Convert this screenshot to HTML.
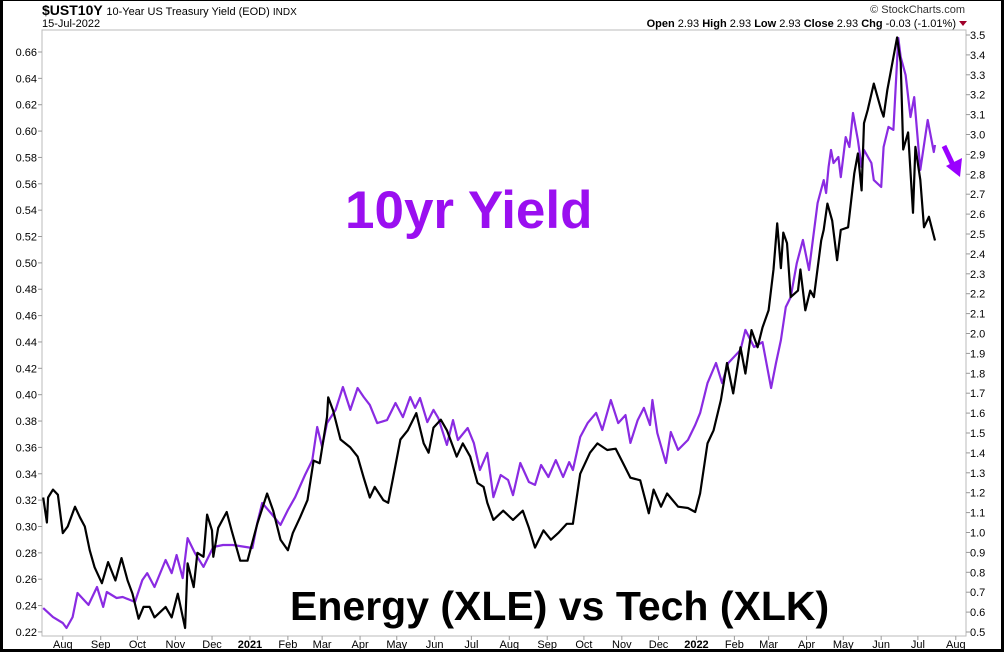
<!DOCTYPE html>
<html><head><meta charset="utf-8">
<style>
html,body{margin:0;padding:0;background:#fff;}
body{width:1004px;height:654px;overflow:hidden;position:relative;font-family:"Liberation Sans",Arial,sans-serif;}
#frame{position:absolute;left:0;top:0;width:998px;height:648px;border-left:3px solid #000;border-right:3px solid #000;border-bottom:3px solid #000;border-top:1px solid #000;}
</style></head>
<body>
<div id="frame"></div>
<svg id="chart" width="1004" height="654" style="position:absolute;left:0;top:0">
<text x="42" y="15" font-size="14" font-weight="bold" fill="#000">$UST10Y <tspan font-size="11" font-weight="normal">10-Year US Treasury Yield (EOD) </tspan><tspan font-size="10" font-weight="normal">INDX</tspan></text>
<text x="42" y="27" font-size="11" fill="#000">15-Jul-2022</text>
<text x="965" y="13" font-size="11" text-anchor="end" fill="#333">© StockCharts.com</text>
<text x="956" y="27" font-size="11" text-anchor="end" fill="#000"><tspan font-weight="bold">Open</tspan> 2.93 <tspan font-weight="bold">High</tspan> 2.93 <tspan font-weight="bold">Low</tspan> 2.93 <tspan font-weight="bold">Close</tspan> 2.93 <tspan font-weight="bold">Chg</tspan> -0.03 (-1.01%)</text>
<polygon points="959,21 967,21 963,26" fill="#a0002a"/>
<rect x="42" y="30" width="924" height="606" fill="none" stroke="#bbb" stroke-width="1"/>
<g id="axes"></g>
<g id="series"></g>
<text x="345" y="228" font-size="53" font-weight="bold" fill="#9a0ff0">10yr Yield</text>
<text x="290" y="620" font-size="41" font-weight="bold" fill="#000">Energy (XLE) vs Tech (XLK)</text>
<g>
<line x1="944" y1="146" x2="953" y2="165" stroke="#9a00ff" stroke-width="5"/>
<polygon points="946,166 962,158 960,177" fill="#9a00ff"/>
</g>
</svg>
<script>
const monthLabels=["Aug","Sep","Oct","Nov","Dec","2021","Feb","Mar","Apr","May","Jun","Jul","Aug","Sep","Oct","Nov","Dec","2022","Feb","Mar","Apr","May","Jun","Jul","Aug"];
const monthDays=[17,48,78,109,139,170,201,229,260,290,321,351,382,413,443,474,504,535,566,594,625,655,686,716,747];
const leftTicks=[0.22,0.24,0.26,0.28,0.30,0.32,0.34,0.36,0.38,0.40,0.42,0.44,0.46,0.48,0.50,0.52,0.54,0.56,0.58,0.60,0.62,0.64,0.66];
const rightTicks=[0.5,0.6,0.7,0.8,0.9,1.0,1.1,1.2,1.3,1.4,1.5,1.6,1.7,1.8,1.9,2.0,2.1,2.2,2.3,2.4,2.5,2.6,2.7,2.8,2.9,3.0,3.1,3.2,3.3,3.4,3.5];
const ratioDays=[1,4,5,9,13,17,21,27,31,35,39,43,49,54,60,65,70,74,79,83,88,92,101,106,111,117,119,124,127,132,135,139,140,144,151,155,162,168,176,184,189,195,201,205,211,217,222,227,233,234,238,244,252,258,263,268,272,279,283,287,293,299,306,312,316,320,326,331,339,344,350,356,361,364,369,377,385,393,398,403,410,416,422,429,434,440,448,454,462,469,475,481,489,496,500,506,511,520,528,534,538,544,549,555,560,565,571,575,580,585,589,594,598,601,604,606,609,612,618,620,624,628,631,637,639,642,646,650,653,659,664,667,670,672,675,680,686,688,691,696,699,702,704,708,712,714,718,721,725,730];
const ratioValues=[0.322,0.303,0.322,0.328,0.324,0.295,0.300,0.315,0.307,0.300,0.282,0.269,0.257,0.273,0.259,0.276,0.259,0.249,0.230,0.239,0.239,0.231,0.239,0.231,0.249,0.223,0.272,0.254,0.280,0.277,0.309,0.297,0.277,0.299,0.311,0.297,0.274,0.274,0.302,0.325,0.312,0.290,0.282,0.295,0.307,0.320,0.350,0.348,0.383,0.398,0.388,0.366,0.360,0.353,0.337,0.322,0.330,0.320,0.318,0.337,0.366,0.373,0.386,0.363,0.356,0.375,0.381,0.373,0.353,0.363,0.353,0.333,0.330,0.318,0.305,0.312,0.305,0.312,0.299,0.284,0.297,0.290,0.295,0.302,0.302,0.340,0.356,0.363,0.358,0.359,0.348,0.337,0.335,0.310,0.328,0.315,0.325,0.315,0.314,0.311,0.325,0.363,0.373,0.396,0.424,0.401,0.436,0.416,0.449,0.436,0.451,0.464,0.495,0.530,0.496,0.523,0.515,0.474,0.479,0.495,0.464,0.479,0.474,0.517,0.525,0.545,0.532,0.502,0.525,0.527,0.568,0.583,0.555,0.606,0.616,0.636,0.616,0.611,0.631,0.656,0.671,0.652,0.586,0.599,0.538,0.588,0.563,0.527,0.535,0.517];
const yieldDays=[1,9,17,20,25,29,38,45,50,53,61,66,76,82,86,92,101,106,110,115,119,125,132,140,148,156,172,176,180,187,195,201,207,215,221,225,229,233,240,246,252,258,263,268,274,282,289,295,301,305,309,315,320,324,331,336,340,348,353,358,364,369,375,381,385,391,398,403,408,414,420,426,431,434,440,446,453,458,465,471,477,481,487,492,497,499,503,510,514,520,528,534,538,544,551,556,561,571,575,582,589,596,600,604,608,612,617,622,627,634,639,641,643,645,647,651,653,657,660,663,667,670,672,678,680,686,688,692,696,700,702,706,710,713,718,724,729,730];
const yieldValues=[0.62,0.575,0.545,0.52,0.575,0.696,0.636,0.726,0.626,0.701,0.671,0.676,0.651,0.761,0.796,0.726,0.862,0.796,0.887,0.771,0.972,0.897,0.827,0.927,0.937,0.937,0.922,1.048,1.148,1.098,1.038,1.113,1.178,1.289,1.364,1.530,1.430,1.550,1.616,1.731,1.616,1.726,1.681,1.641,1.550,1.565,1.651,1.580,1.681,1.626,1.676,1.555,1.616,1.575,1.440,1.565,1.465,1.525,1.450,1.314,1.400,1.178,1.289,1.264,1.188,1.349,1.254,1.239,1.339,1.279,1.364,1.279,1.354,1.314,1.480,1.550,1.601,1.515,1.666,1.550,1.590,1.450,1.565,1.626,1.540,1.666,1.500,1.349,1.505,1.415,1.465,1.540,1.600,1.751,1.852,1.751,1.852,1.917,2.018,1.932,1.957,1.726,1.852,1.967,2.133,2.183,2.354,2.470,2.319,2.656,2.771,2.706,2.837,2.922,2.857,2.887,2.786,2.987,2.937,3.108,2.972,2.837,2.922,2.857,2.771,2.736,2.937,3.038,3.023,3.485,3.389,3.299,3.088,3.188,2.822,3.073,2.912,2.947];

const NS="http://www.w3.org/2000/svg";
function xScale(d){return 42+(d)*(935-42)/730;}
function yLeft(v){return 52+(0.66-v)/0.02*26.36;}
function yRight(v){return 35+(3.5-v)*199;}
const axes=document.getElementById('axes');
function mk(tag,attrs,parent){const e=document.createElementNS(NS,tag);for(const k in attrs)e.setAttribute(k,attrs[k]);parent.appendChild(e);return e;}
leftTicks.forEach(v=>{
  const y=yLeft(v);
  const t=mk('line',{x1:38,x2:42,y1:y,y2:y,stroke:'#999'},axes);
  
  
  const l=mk('text',{x:37,y:y+4,'font-size':11,'text-anchor':'end',fill:'#000'},axes);
  l.textContent=v.toFixed(2);
  
  
});
rightTicks.forEach(v=>{
  const y=yRight(v);
  const t=mk('line',{x1:966,x2:970,y1:y,y2:y,stroke:'#999'},axes);
  
  
  const l=mk('text',{x:970,y:y+4,'font-size':11,fill:'#000'},axes);
  l.textContent=v.toFixed(1);
  
  
});
monthLabels.forEach((m,i)=>{
  const x=xScale(monthDays[i]);
  const t=mk('line',{x1:x,x2:x,y1:636,y2:640,stroke:'#999'},axes);
  
  
  const l=mk('text',{x:x,y:648,'font-size':11,'text-anchor':'middle',fill:'#000','font-weight':(m.length===4?'bold':'normal')},axes);
  l.textContent=m;
  
  
});
const series=document.getElementById('series');
const py=yieldDays.map((d,i)=>xScale(d).toFixed(1)+','+yRight(yieldValues[i]).toFixed(1)).join(' ');
const p1=mk('polyline',{points:py,fill:'none',stroke:'#8a2be2','stroke-width':2.2,'stroke-linejoin':'round'},series);


const pr=ratioDays.map((d,i)=>xScale(d).toFixed(1)+','+yLeft(ratioValues[i]).toFixed(1)).join(' ');
const p2=mk('polyline',{points:pr,fill:'none',stroke:'#000','stroke-width':2.2,'stroke-linejoin':'round'},series);


</script>
</body></html>
